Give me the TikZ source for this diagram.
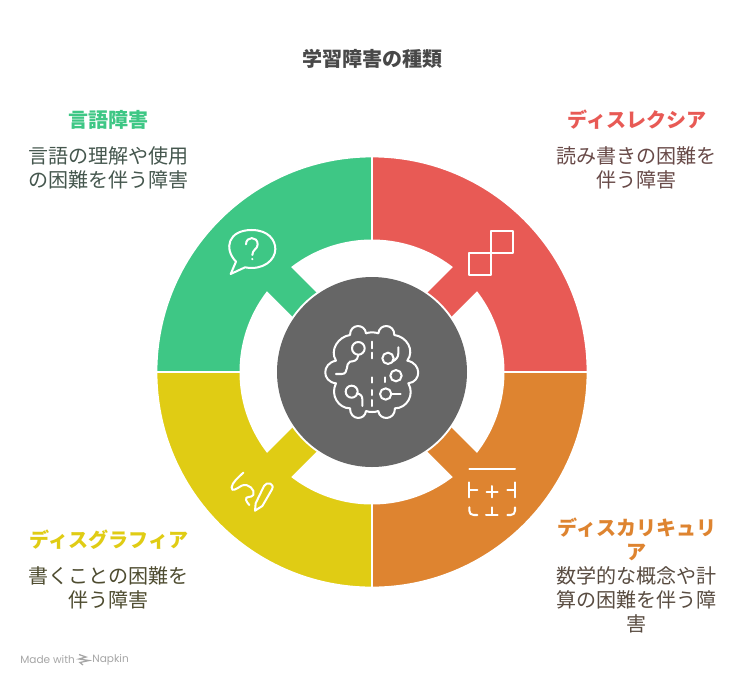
\documentclass[tikz,border=0pt]{standalone}
\usepackage{fontspec}
\usepackage{xcolor}
\usepackage{tikz}
\newfontfamily\cjk{Noto Sans CJK JP}
\setsansfont{Poppins}
\definecolor{segred}{HTML}{E85A55}
\definecolor{seggreen}{HTML}{3EC785}
\definecolor{segyellow}{HTML}{E0CC14}
\definecolor{segorange}{HTML}{DE8430}
\definecolor{hubgray}{HTML}{666666}
\definecolor{titleink}{HTML}{484848}
\definecolor{greenink}{HTML}{45574E}
\definecolor{redink}{HTML}{684A48}
\definecolor{yellowink}{HTML}{4E4C30}
\definecolor{orangeink}{HTML}{594C41}
\tikzset{
    iconline/.style={draw=white,line width=1.15pt,line cap=round,line join=round},
    zoomed/.style={x=0.02cm/3,y=-0.02cm/3},
    segfill/.style={draw=white,line width=1pt},
    headtext/.style={font=\cjk\bfseries\fontsize{11.4}{13.7}\selectfont,align=center},
    bodytext/.style={font=\cjk\fontsize{11.4}{13.7}\selectfont,align=center},
    badgetext/.style={font=\sffamily\fontsize{6}{7}\selectfont,text=black!35,anchor=west,inner sep=0pt},
}
\begin{document}
\begin{tikzpicture}[x=0.02cm,y=-0.02cm]
        \useasboundingbox (0,0) rectangle (744,684);
        \fill[white] (0,0) rectangle (744,684);
        % Segments
            \fill[segfill,fill=segred](372,372) -- (372,156.5) arc[start angle=-90,end angle=0,radius=215.5] -- cycle;
            \fill[segfill,fill=segorange](372,372) -- (587.5,372) arc[start angle=0,end angle=90,radius=215.5] -- cycle;
            \fill[segfill,fill=segyellow](372,372) -- (372,587.5) arc[start angle=90,end angle=180,radius=215.5] -- cycle;
            \fill[segfill,fill=seggreen](372,372) -- (156.5,372) arc[start angle=180,end angle=270,radius=215.5] -- cycle;
        % White ring
            \fill[white](372,372) circle (132.5);
        % Spokes
            \fill[seggreen](281,257) -- (351,327) -- (327,351) -- (257,281) -- cycle; % green
            \fill[segred](463,257) -- (393,327) -- (417,351) -- (487,281) -- cycle; % red
            \fill[segorange](463,487) -- (393,417) -- (417,393) -- (487,463) -- cycle; % orange
            \fill[segyellow](281,487) -- (351,417) -- (327,393) -- (257,463) -- cycle; % yellow
        % Hub
            \fill[white](372,372) circle (97);
            \fill[hubgray](372,372) circle (95);
        % Brain
        \begin{scope}[shift={(300,300)},zoomed]
            \draw[iconline](150,105) .. controls (150,70) and (195,70) .. (198,100)
                .. controls (208,96) and (225,96) .. (235,100)
                .. controls (238,70) and (283,70) .. (283,105)
                .. controls (320,110) and (345,150) .. (322,182)
                .. controls (365,190) and (365,245) .. (325,250)
                .. controls (345,285) and (320,325) .. (285,325)
                .. controls (285,362) and (238,362) .. (235,333)
                .. controls (225,337) and (208,337) .. (198,333)
                .. controls (195,362) and (150,362) .. (150,325)
                .. controls (115,325) and (90,285) .. (108,250)
                .. controls (65,245) and (65,190) .. (108,182)
                .. controls (88,150) and (115,110) .. (150,105) -- cycle;
            \draw[iconline](216,125) -- (216,145);
            \draw[iconline](216,158) -- (216,175);
            \draw[iconline](216,232) -- (216,248);
            \draw[iconline](216,270) -- (216,285);
            \draw[iconline](216,300) -- (216,318);
            \draw[iconline](175,145) circle (19);
            \draw[iconline](175,165) .. controls (172,185) and (160,183) .. (150,185)
                .. controls (135,190) and (148,222) .. (125,222) -- (108,222);
            \draw[iconline](264,175) circle (17);
            \draw[iconline](295,142) -- (295,160) .. controls (295,172) and (288,178) .. (279,184);
            \draw[iconline](288,227) circle (17);
            \draw[iconline](254,232) -- (254,246);
            \draw[iconline](155,275) circle (18);
            \draw[iconline](170,280) .. controls (182,282) and (187,288) .. (187,298) -- (187,318);
            \draw[iconline](257,282) circle (17);
            \draw[iconline](275,282) -- (302,282);
        \end{scope}
        % Speech bubble
        \begin{scope}[shift={(210,210)},zoomed]
            \draw[iconline](78,155) .. controls (40,115) and (55,60) .. (125,60)
                .. controls (175,60) and (196,90) .. (196,117)
                .. controls (196,150) and (160,182) .. (105,172)
                -- (62,192) -- cycle;
            \draw[iconline](108,103) .. controls (108,78) and (143,78) .. (143,103)
                .. controls (143,118) and (127,118) .. (127,135);
            \fill[white](127,147) circle (3.5);
        \end{scope}
        % Squares
        \begin{scope}[shift={(420,210)},zoomed]
            \draw[iconline](212,62) rectangle (278,128);
            \draw[iconline](147,130) rectangle (213,195);
        \end{scope}
        % Calculator
        \begin{scope}[shift={(420,420)},zoomed]
            \draw[iconline](148,148) -- (285,148);
            \draw[iconline](148,187) -- (148,232);
            \draw[iconline](148,210) -- (172,210);
            \draw[iconline](200,215) -- (233,215);
            \draw[iconline](216,198) -- (216,232);
            \draw[iconline](285,187) -- (285,232);
            \draw[iconline](262,210) -- (285,210);
            \draw[iconline](148,262) -- (148,272) .. controls (148,280) and (153,285) .. (161,285) -- (172,285);
            \draw[iconline](216,262) -- (216,285);
            \draw[iconline](198,285) -- (233,285);
            \draw[iconline](285,262) -- (285,272) .. controls (285,280) and (280,285) .. (272,285) -- (262,285);
        \end{scope}
        % Pencil
        \begin{scope}[shift={(210,420)},zoomed]
            \draw[iconline](100,158) .. controls (85,172) and (66,188) .. (65,202)
                .. controls (64,218) and (80,206) .. (95,197)
                .. controls (115,188) and (137,210) .. (130,225)
                .. controls (124,235) and (105,226) .. (108,240)
                .. controls (110,246) and (114,250) .. (118,255);
            \draw[iconline](135,272) -- (137,250) -- (162,198)
                .. controls (170,183) and (195,190) .. (186,208)
                -- (157,258) -- cycle;
        \end{scope}
        % Texts
            \node[headtext,text=titleink] (title) at (372.5,59) {学習障害の種類};
            \node[headtext,text=seggreen] (langhead) at (108.5,120) {言語障害};
            \node[bodytext,text=greenink] (langbody) at (108.5,168) {言語の理解や使用\\の困難を伴う障害};
            \node[headtext,text=segred] (dyslexhead) at (637,120) {ディスレクシア};
            \node[bodytext,text=redink] (dyslexbody) at (636.5,168) {読み書きの困難を\\伴う障害};
            \node[headtext,text=segyellow] (graphhead) at (109,540) {ディスグラフィア};
            \node[bodytext,text=yellowink] (graphbody) at (108.5,588) {書くことの困難を\\伴う障害};
            \node[headtext,text=segorange] (calchead) at (637,539) {ディスカリキュリ\\ア};
            \node[bodytext,text=orangeink] (calcbody) at (636.5,600) {数学的な概念や計\\算の困難を伴う障\\害};
        % Badge
            \node[badgetext] (madewith) at (20,660) {Made with};
            \node[badgetext] (napkin) at (92,660) {Napkin};
            \draw[black!35,line width=0.7pt](79,654.5) -- (86,657) -- (79,659) -- (89,660.5) -- (80,662.5) -- (83,665);
\end{tikzpicture}
\end{document}
